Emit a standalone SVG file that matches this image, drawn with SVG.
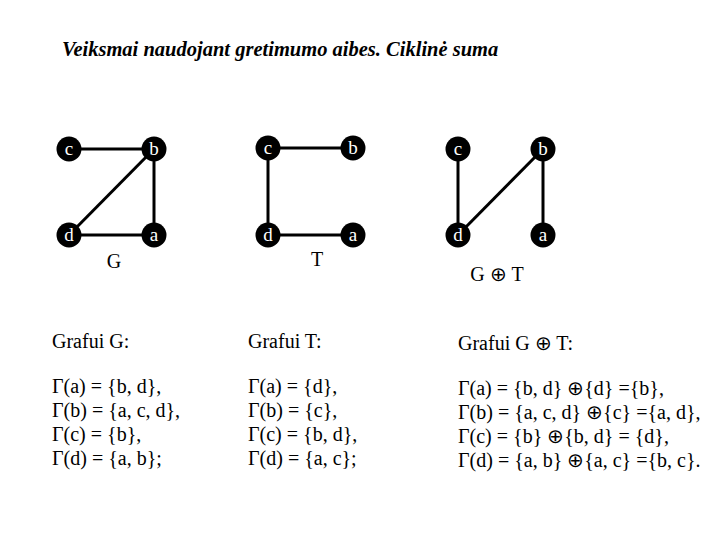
<svg xmlns="http://www.w3.org/2000/svg" width="720" height="540" viewBox="0 0 720 540">
<style>
.e{stroke:#000;stroke-width:3;fill:none}
.n circle{fill:#000}
.n text{fill:#fff;font-family:"Liberation Serif","Times New Roman",serif;font-size:19px;text-anchor:middle}
.t{font-family:"Liberation Serif","Times New Roman",serif;font-size:20px;fill:#000}
.lbl{font-family:"Liberation Serif","Times New Roman",serif;font-size:20px;fill:#000;text-anchor:middle}
.title{font-family:"Liberation Serif","Times New Roman",serif;font-size:20.5px;font-style:italic;font-weight:bold;fill:#000}
</style>
<rect width="720" height="540" fill="#fff"/>
<text class="title" x="62" y="56">Veiksmai naudojant gretimumo aibes. Ciklinė suma</text>
<g id="connectors">
<line class="e" x1="69" y1="149" x2="154" y2="149"/>
<line class="e" x1="154" y1="149" x2="154" y2="235"/>
<line class="e" x1="154" y1="149" x2="69" y2="235"/>
<line class="e" x1="69" y1="235" x2="154" y2="235"/>
<line class="e" x1="268" y1="148" x2="353" y2="148"/>
<line class="e" x1="268" y1="148" x2="268" y2="235"/>
<line class="e" x1="268" y1="235" x2="353" y2="235"/>
<line class="e" x1="458" y1="149" x2="458" y2="235"/>
<line class="e" x1="543" y1="149" x2="458" y2="235"/>
<line class="e" x1="543" y1="149" x2="543" y2="235"/>
</g>
<g id="G-c" class="n"><circle cx="69" cy="149" r="12.5"/><text x="69" y="155">c</text></g>
<g id="G-b" class="n"><circle cx="154" cy="149" r="12.5"/><text x="154" y="155">b</text></g>
<g id="G-d" class="n"><circle cx="69" cy="235" r="12.5"/><text x="69" y="241">d</text></g>
<g id="G-a" class="n"><circle cx="154" cy="235" r="12.5"/><text x="154" y="241">a</text></g>
<g id="T-c" class="n"><circle cx="268" cy="148" r="12.5"/><text x="268" y="154">c</text></g>
<g id="T-b" class="n"><circle cx="353" cy="148" r="12.5"/><text x="353" y="154">b</text></g>
<g id="T-d" class="n"><circle cx="268" cy="235" r="12.5"/><text x="268" y="241">d</text></g>
<g id="T-a" class="n"><circle cx="353" cy="235" r="12.5"/><text x="353" y="241">a</text></g>
<g id="S-c" class="n"><circle cx="458" cy="149" r="12.5"/><text x="458" y="155">c</text></g>
<g id="S-b" class="n"><circle cx="543" cy="149" r="12.5"/><text x="543" y="155">b</text></g>
<g id="S-d" class="n"><circle cx="458" cy="235" r="12.5"/><text x="458" y="241">d</text></g>
<g id="S-a" class="n"><circle cx="543" cy="235" r="12.5"/><text x="543" y="241">a</text></g>
<text class="lbl" x="114" y="268">G</text>
<text class="lbl" x="317" y="266">T</text>
<text class="lbl" x="497" y="281">G ⊕ T</text>
<g class="t">
<text x="52" y="348">Grafui G:</text>
<text x="52" y="393">Γ(a) = {b, d},</text>
<text x="52" y="417">Γ(b) = {a, c, d},</text>
<text x="52" y="441">Γ(c) = {b},</text>
<text x="52" y="465">Γ(d) = {a, b};</text>
<text x="248" y="348">Grafui T:</text>
<text x="248" y="393">Γ(a) = {d},</text>
<text x="248" y="417">Γ(b) = {c},</text>
<text x="248" y="441">Γ(c) = {b, d},</text>
<text x="248" y="465">Γ(d) = {a, c};</text>
<text x="458" y="350">Grafui G ⊕ T:</text>
<text x="458" y="395">Γ(a) = {b, d} ⊕{d} ={b},</text>
<text x="458" y="419">Γ(b) = {a, c, d} ⊕{c} ={a, d},</text>
<text x="458" y="443">Γ(c) = {b} ⊕{b, d} = {d},</text>
<text x="458" y="467">Γ(d) = {a, b} ⊕{a, c} ={b, c}.</text>
</g>
</svg>
